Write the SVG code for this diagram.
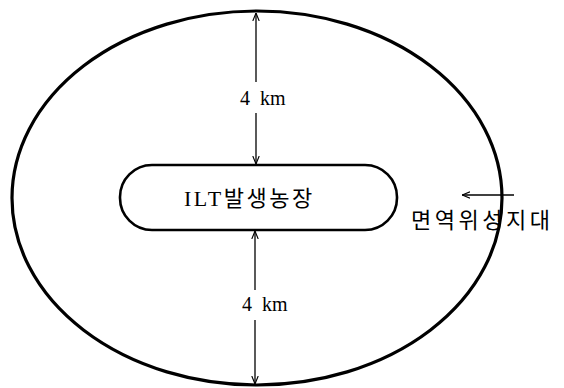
<svg xmlns="http://www.w3.org/2000/svg" width="564" height="388" viewBox="0 0 564 388">
<style>
.zone{fill:none;stroke:#000;stroke-width:3.2}
.farm{fill:#fff;stroke:#000;stroke-width:2.6}
.dim{fill:none;stroke:#000;stroke-width:1.3}
.km{font-family:"Liberation Serif","Noto Serif",serif;font-size:20px;fill:#000}
.farmtxt{font-family:"Liberation Serif","Noto Sans CJK KR",serif;font-size:22px;letter-spacing:2.5px;fill:#000}
.lbl{font-family:"Noto Sans CJK KR","Noto Sans",sans-serif;font-size:22px;font-weight:400;letter-spacing:3.5px;fill:#000}
</style>
<defs>
<marker id="ah" viewBox="0 0 10 10" refX="10" refY="5" markerWidth="8" markerHeight="8" markerUnits="userSpaceOnUse" orient="auto">
<path d="M0,1 L10,5 L0,9" fill="none" stroke="#000" stroke-width="1.4"/>
</marker>
</defs>
<g id="zone">
<ellipse class="zone" cx="257" cy="198" rx="245" ry="187"/>
</g>
<g id="farm">
<rect class="farm" x="120" y="165" width="277" height="65" rx="32" ry="32"/>
<text class="farmtxt" x="184" y="206">ILT발생농장</text>
</g>
<g id="connectors">
<line class="dim" x1="256" y1="82" x2="256" y2="13" marker-end="url(#ah)"/>
<line class="dim" x1="256" y1="113" x2="256" y2="164" marker-end="url(#ah)"/>
<line class="dim" x1="255" y1="290" x2="255" y2="231" marker-end="url(#ah)"/>
<line class="dim" x1="255" y1="320" x2="255" y2="384" marker-end="url(#ah)"/>
<line class="dim" x1="514" y1="195" x2="462" y2="195" marker-end="url(#ah)"/>
</g>
<g id="labels">
<text class="km" x="240" y="105" xml:space="preserve">4  km</text>
<text class="km" x="242" y="311" xml:space="preserve">4  km</text>
<text class="lbl" x="411" y="228">면역위성지대</text>
</g>
</svg>
